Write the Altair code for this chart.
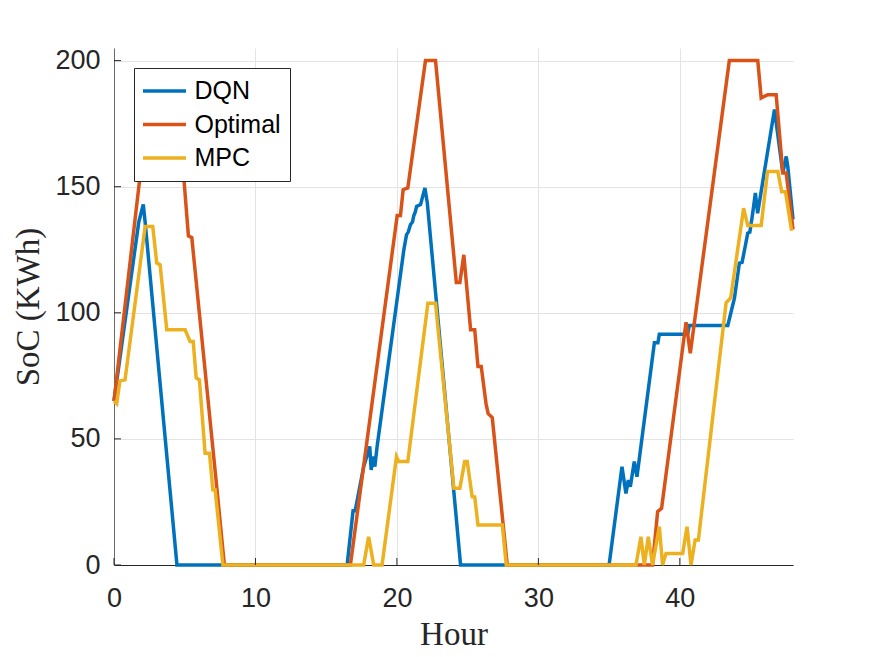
import altair as alt
import pandas as pd

# Battery state of charge over two days for three controllers
SERIES = ["DQN", "Optimal", "MPC"]
COLORS = ["#0072BD", "#D95319", "#EDB120"]

dqn_hour = [0, 1.75, 2.07, 2.2, 4.45, 16.48, 16.9, 17.05, 17.65, 18.08, 18.18, 18.32,
            18.44, 18.6, 20.49, 20.68, 20.8, 20.96, 21.1, 21.19, 21.3, 21.39, 21.67,
            21.98, 22.15, 24.5, 35.0, 35.91, 36.19, 36.36, 36.5, 36.78, 36.97, 38.2,
            38.45, 38.55, 40.55, 40.67, 43.39, 43.86, 44.21, 44.4, 44.62, 44.8, 44.95,
            45.15, 45.34, 45.5, 46.69, 47.28, 47.52, 47.63, 48.0]
dqn_soc = [65, 136, 143, 136, 0, 0, 21.5, 21.5, 39, 47, 37.7, 43,
           39, 47, 125, 131, 132, 135, 136, 138.5, 140, 142.2, 142.9,
           149.5, 143.5, 0, 0, 39, 28.4, 33.7, 31, 41, 35, 88.1,
           88.1, 91.5, 91.5, 95, 95, 105.8, 119.7, 120, 126.3, 131.6, 132,
           139.5, 147.5, 139.5, 180.6, 155.4, 162, 158, 137]

opt_hour = [0, 2.5, 4.48, 5.26, 5.5, 7.27, 7.8, 16.71, 20.02, 20.25, 20.44, 20.77,
            22.02, 22.73, 24.2, 24.45, 24.73, 25.21, 25.5, 25.73, 25.96, 26.3, 26.45,
            26.74, 27.8, 38.07, 38.43, 38.71, 40.44, 40.74, 43.5, 45.51, 45.75, 46.22,
            46.81, 47.28, 47.52, 48.0]
opt_soc = [65, 186, 186, 130.5, 129.8, 30.6, 0, 0, 138.6, 138.6, 148.8, 149.5,
           200, 200, 112, 112, 123, 93.3, 93.3, 78.7, 78.7, 64, 60,
           58.5, 0, 0, 21.2, 22.5, 96.3, 84, 200, 200, 185.2, 186.5,
           186.5, 155.4, 155.4, 133]

mpc_hour = [0, 0.19, 0.42, 0.78, 2.2, 2.74, 3.02, 3.26, 3.73, 5.03, 5.38, 5.6, 5.81,
            6.04, 6.44, 6.75, 6.99, 7.15, 7.7, 17.65, 18.0, 18.36, 18.95, 19.97,
            20.13, 20.77, 22.19, 22.73, 24.03, 24.45, 24.79, 24.97, 25.32, 25.5, 25.73,
            27.45, 27.73, 36.9, 37.25, 37.49, 37.77, 38.07, 38.55, 38.78, 39.02, 40.2,
            40.51, 40.79, 41.08, 41.31, 43.27, 43.6, 44.51, 44.8, 45.75, 46.2, 46.93,
            47.2, 47.47, 47.9]
mpc_soc = [65, 64, 73, 73.4, 134.2, 134.2, 119.8, 119, 93.3, 93.3, 88.6, 88.6, 74.2,
           73.4, 44.3, 44.3, 29.8, 29.8, 0, 0, 11.2, 0, 0, 43,
           41, 41, 103.8, 103.8, 30.4, 30.4, 41, 41, 27.1, 27, 15.9,
           15.9, 0, 0, 11.2, 0, 11.2, 0, 15.2, 0, 4.6, 4.6,
           15.2, 0, 9.9, 9.9, 104, 106, 141.5, 134.6, 134.6, 156, 156,
           148, 148, 132.5]

x_ticks = [0, 10, 20, 30, 40]
y_ticks = [0, 50, 100, 150, 200]

frames = [
    pd.DataFrame({"hour": h, "soc": s, "series": name})
    for name, h, s in [("DQN", dqn_hour, dqn_soc),
                       ("Optimal", opt_hour, opt_soc),
                       ("MPC", mpc_hour, mpc_soc)]
]
df = pd.concat(frames, ignore_index=True)

W, H = 679, 517
INK = "#262626"
SANS = "Liberation Sans"
SERIF = "Liberation Serif"

x_enc = alt.X(
    "hour:Q",
    scale=alt.Scale(domain=[0, 48], nice=False, zero=False),
    axis=alt.Axis(
        values=x_ticks, title="Hour", ticks=False, labelFlush=False,
        labelFont=SANS, labelFontSize=27, labelColor=INK, labelPadding=20,
        domainColor=INK, domainWidth=1, gridColor="#e3e3e3", gridWidth=1,
        titleFont=SERIF, titleFontSize=33, titleFontWeight="normal", titleColor=INK,
        titleX=W / 2, titleY=79, titleAlign="center", titleBaseline="alphabetic",
    ),
)
y_enc = alt.Y(
    "soc:Q",
    scale=alt.Scale(domain=[0, 205], nice=False, zero=False),
    axis=alt.Axis(
        values=y_ticks, title="SoC (KWh)", ticks=False, labelFlush=False,
        labelFont=SANS, labelFontSize=27, labelColor=INK, labelPadding=14,
        domainColor="#6a6a6a", domainWidth=1, gridColor="#e3e3e3", gridWidth=1,
        titleFont=SERIF, titleFontSize=33, titleFontWeight="normal", titleColor=INK,
        titleX=-86, titleY=H / 2, titleAngle=-90, titleAlign="center",
        titleBaseline="middle",
    ),
)
color_enc = alt.Color(
    "series:N",
    scale=alt.Scale(domain=SERIES, range=COLORS),
    legend=alt.Legend(
        title=None, orient="none", legendX=20, legendY=20,
        symbolType="stroke", symbolSize=2025, symbolStrokeWidth=3.5,
        symbolOffset=-4, labelOffset=6.5,
        labelFont=SANS, labelFontSize=25, labelColor="black",
        clipHeight=28, rowPadding=5.5, padding=9,
        fillColor="white", strokeColor=INK, cornerRadius=0,
    ),
)

# one layer per controller so later series sit on top of earlier ones
lines = [
    alt.Chart(df)
    .transform_filter(alt.datum.series == name)
    .mark_line(strokeWidth=3.5)
    .encode(x=x_enc, y=y_enc, color=color_enc)
    for name in SERIES
]

# inward-pointing tick marks along the bottom and left axes
x_tick_marks = alt.Chart(pd.DataFrame({"hour": x_ticks})).mark_rule(
    color=INK, strokeWidth=1
).encode(x=x_enc, y=alt.value(H), y2=alt.value(H - 7))
y_tick_marks = alt.Chart(pd.DataFrame({"soc": y_ticks})).mark_rule(
    color=INK, strokeWidth=1
).encode(y=y_enc, x=alt.value(0), x2=alt.value(7))

chart = (
    alt.layer(*lines, x_tick_marks, y_tick_marks)
    .properties(
        width=W, height=H,
        autosize=alt.AutoSizeParams(type="none"),
        padding={"left": 114, "top": 48, "right": 82, "bottom": 92},
        background="white",
    )
    .configure_view(stroke=None)
)

chart.save("out.html", embed_options={"renderer": "svg", "actions": False})
